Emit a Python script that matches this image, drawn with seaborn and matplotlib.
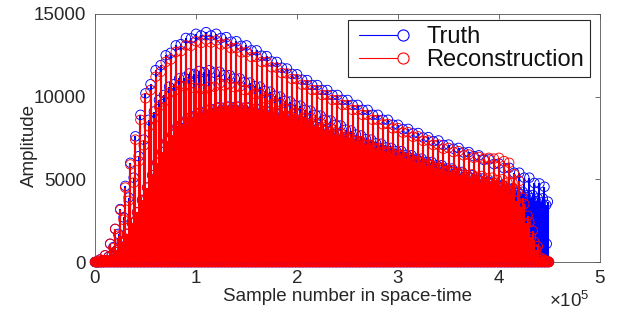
import numpy as np
import pandas as pd
import matplotlib
matplotlib.use("Agg")
import matplotlib.pyplot as plt
import seaborn as sns
from matplotlib.lines import Line2D
from matplotlib.legend_handler import HandlerBase
from matplotlib.ticker import ScalarFormatter

# ---------------- data (amplitudes) ----------------
frame_index = list(range(45))          # time frames
samples_per_frame = 10000              # space-time samples per frame

# strongest spatial channels (top blue / red ribbon)
truth_a = [0, 400, 2000, 4600, 7600, 10200, 11600, 12500, 13100, 13550,
           13800, 13900, 13800, 13600, 13350, 13100, 12800, 12450, 12100, 11700,
           11350, 11000, 10700, 10400, 10100, 9800, 9500, 9200, 8900, 8600,
           8300, 8050, 7800, 7550, 7350, 7100, 6900, 6650, 6450, 6200,
           5950, 5700, 5400, 5100, 4750]
recon_a = [0, 400, 2000, 4500, 7400, 9900, 11200, 12100, 12700, 13100,
           13350, 13450, 13400, 13200, 12950, 12700, 12400, 12100, 11750, 11400,
           11050, 10700, 10400, 10100, 9800, 9500, 9200, 8900, 8600, 8350,
           8100, 7850, 7600, 7350, 7100, 6900, 6700, 6500, 6350, 6300,
           6300, 6000, 4900, 2400, 300]
truth_a2 = [150, 1100, 3200, 6000, 8900, 10750, 11900, 12650, 13175, 13525,
            13700, 13700, 13550, 13325, 13075, 12800, 12475, 12125, 11750, 11375,
            11025, 10700, 10400, 10100, 9800, 9500, 9200, 8900, 8600, 8300,
            8025, 7775, 7525, 7300, 7075, 6850, 6625, 6400, 6175, 5925,
            5675, 5400, 5100, 4775, 4550]
recon_a2 = [150, 1100, 3150, 5900, 8600, 10400, 11500, 12250, 12750, 13075,
            13250, 13275, 13150, 12925, 12675, 12400, 12100, 11775, 11425, 11075,
            10725, 10400, 10100, 9800, 9500, 9200, 8900, 8600, 8325, 8075,
            7825, 7575, 7325, 7075, 6850, 6650, 6450, 6300, 6250, 6250,
            6100, 5300, 3500, 1200, 100]

# second band
truth_b = [0, 300, 1700, 3900, 6400, 8600, 9800, 10600, 11100, 11400,
           11550, 11600, 11500, 11300, 11100, 10850, 10600, 10300, 10000, 9700,
           9450, 9150, 8850, 8550, 8250, 7950, 7650, 7400, 7150, 6900,
           6700, 6450, 6250, 6050, 5850, 5650, 5450, 5250, 5050, 4850,
           4650, 4450, 4250, 4050, 3850]
recon_b = [0, 300, 1600, 3700, 6100, 8200, 9400, 10200, 10700, 10750,
           10500, 10600, 10800, 10750, 10600, 10400, 10150, 9850, 9550, 9250,
           9000, 8700, 8400, 8100, 7800, 7550, 7300, 7050, 6800, 6600,
           6400, 6200, 6000, 5850, 5700, 5550, 5400, 5300, 5200, 5100,
           5000, 4800, 3900, 1900, 200]
truth_b2 = [100, 900, 2700, 5100, 7400, 9100, 10100, 10750, 11150, 11375,
            11475, 11450, 11300, 11100, 10875, 10625, 10350, 10050, 9750, 9475,
            9200, 8900, 8600, 8300, 8000, 7700, 7425, 7175, 6925, 6700,
            6475, 6250, 6050, 5850, 5650, 5450, 5250, 5050, 4850, 4650,
            4450, 4250, 4050, 3850, 3650]
recon_b2 = [100, 850, 2550, 4800, 7050, 8700, 9700, 10350, 10625, 10525,
            10450, 10600, 10675, 10575, 10400, 10175, 9900, 9600, 9300, 9025,
            8750, 8450, 8150, 7850, 7575, 7325, 7075, 6825, 6600, 6400,
            6200, 6000, 5825, 5675, 5525, 5375, 5250, 5150, 5050, 4950,
            4800, 4250, 2800, 950, 50]

# third band (top of the solid region)
truth_c = [0, 100, 700, 1700, 3000, 4500, 6000, 7300, 8200, 8700,
           9000, 9200, 9350, 9400, 9400, 9350, 9250, 9100, 8950, 8800,
           8600, 8400, 8150, 7900, 7700, 7500, 7300, 7100, 6900, 6700,
           6500, 6300, 6100, 5900, 5700, 5500, 5300, 5100, 4900, 4700,
           4500, 4300, 4100, 3850, 3600]
recon_c = [0, 100, 700, 1700, 3000, 4500, 6000, 7300, 8150, 8650,
           8950, 9150, 9300, 9350, 9350, 9300, 9200, 9050, 8900, 8750,
           8550, 8350, 8100, 7850, 7650, 7450, 7250, 7050, 6850, 6650,
           6450, 6250, 6050, 5850, 5650, 5450, 5250, 5050, 4850, 4700,
           4500, 4200, 3300, 1500, 100]
truth_c2 = [50, 400, 1200, 2350, 3750, 5250, 6650, 7700, 8400, 8800,
            9050, 9225, 9325, 9350, 9325, 9250, 9125, 8975, 8825, 8650,
            8450, 8225, 7975, 7750, 7550, 7350, 7150, 6950, 6750, 6550,
            6350, 6150, 5950, 5750, 5550, 5350, 5150, 4950, 4750, 4550,
            4350, 4150, 3925, 3675, 3450]
recon_c2 = [50, 400, 1200, 2350, 3750, 5250, 6650, 7675, 8350, 8750,
            9000, 9175, 9275, 9300, 9275, 9200, 9075, 8925, 8775, 8600,
            8400, 8175, 7925, 7700, 7500, 7300, 7100, 6900, 6700, 6500,
            6300, 6100, 5900, 5700, 5500, 5300, 5100, 4900, 4725, 4550,
            4300, 3700, 2350, 750, 20]

# weaker channels (hidden inside the red area, visible at the blue tail)
truth_d = [0, 100, 600, 1400, 2500, 3800, 5100, 6300, 7100, 7600,
           7900, 8100, 8200, 8250, 8250, 8200, 8150, 8000, 7900, 7750,
           7550, 7400, 7150, 6950, 6750, 6600, 6400, 6250, 6050, 5900,
           5700, 5550, 5350, 5200, 5000, 4850, 4650, 4500, 4300, 4150,
           3950, 3800, 3600, 3400, 3150]
recon_d = [0, 100, 600, 1400, 2500, 3800, 5100, 6300, 7100, 7600,
           7900, 8100, 8200, 8250, 8250, 8200, 8150, 8000, 7900, 7750,
           7550, 7400, 7150, 6950, 6750, 6600, 6400, 6250, 6050, 5900,
           5700, 5550, 5350, 5200, 5000, 4850, 4650, 4500, 4300, 4150,
           3950, 3700, 2800, 1200, 100]
truth_e = [0, 50, 400, 1000, 1800, 2700, 3600, 4400, 4900, 5200,
           5400, 5500, 5600, 5650, 5650, 5600, 5550, 5450, 5350, 5300,
           5150, 5050, 4900, 4750, 4600, 4500, 4400, 4250, 4150, 4000,
           3900, 3800, 3650, 3550, 3400, 3300, 3200, 3050, 2950, 2800,
           2700, 2600, 2450, 2300, 2150]
recon_e = [0, 50, 400, 1000, 1800, 2700, 3600, 4400, 4900, 5200,
           5400, 5500, 5600, 5650, 5650, 5600, 5550, 5450, 5350, 5300,
           5150, 5050, 4900, 4750, 4600, 4500, 4400, 4250, 4150, 4000,
           3900, 3800, 3650, 3550, 3400, 3300, 3200, 3050, 2950, 2800,
           2700, 2500, 1900, 800, 50]
truth_f = [0, 20, 200, 500, 900, 1350, 1800, 2200, 2450, 2600,
           2700, 2750, 2800, 2800, 2800, 2800, 2750, 2700, 2700, 2650,
           2600, 2500, 2450, 2400, 2300, 2250, 2200, 2100, 2050, 2000,
           1950, 1900, 1850, 1750, 1700, 1650, 1600, 1550, 1500, 1400,
           1350, 1300, 1250, 1150, 1100]
recon_f = [0, 20, 200, 500, 900, 1350, 1800, 2200, 2450, 2600,
           2700, 2750, 2800, 2800, 2800, 2800, 2750, 2700, 2700, 2650,
           2600, 2500, 2450, 2400, 2300, 2250, 2200, 2100, 2050, 2000,
           1950, 1900, 1850, 1750, 1700, 1650, 1600, 1550, 1500, 1400,
           1350, 1200, 900, 400, 20]

# silent (zero-amplitude) spatial channel; several such channels form the band along 0
silent = [0, 0, 0, 0, 0, 0, 0, 0, 0, 0, 0, 0, 0, 0, 0, 0, 0, 0, 0, 0, 0, 0, 0,
          0, 0, 0, 0, 0, 0, 0, 0, 0, 0, 0, 0, 0, 0, 0, 0, 0, 0, 0, 0, 0, 0]

# channel order within one frame (space index)
truth_channels = [truth_a, truth_d, silent, truth_c, silent, silent,
                  truth_b, truth_e, silent, truth_a2, silent, silent,
                  truth_c2, truth_f, silent, truth_b2, silent, silent]
recon_channels = [recon_a, recon_d, silent, recon_c, silent, silent,
                  recon_b, recon_e, silent, recon_a2, silent, silent,
                  recon_c2, recon_f, silent, recon_b2, silent, silent]

series_names = ["Truth", "Reconstruction"]
x_ticks = [0, 100000, 200000, 300000, 400000, 500000]
y_ticks = [0, 5000, 10000, 15000]

# ---------------- build long table ----------------
frames = np.array(frame_index)
n_ch = len(truth_channels)
records = []
for slot, (tv, rv) in enumerate(zip(truth_channels, recon_channels)):
    samples = frames * samples_per_frame + slot * samples_per_frame / n_ch
    for s, a in zip(samples, tv):
        records.append(("Truth", s, a))
    for s, a in zip(samples, rv):
        records.append(("Reconstruction", s, a))
df = pd.DataFrame(records, columns=["series", "sample", "amplitude"])

# ---------------- style ----------------
sns.set_style("white")
plt.rcParams["font.family"] = ["Liberation Sans", "DejaVu Sans"]
plt.rcParams["mathtext.fontset"] = "custom"
plt.rcParams["mathtext.rm"] = "Liberation Sans"
plt.rcParams["mathtext.it"] = "Liberation Sans:italic"
plt.rcParams["mathtext.bf"] = "Liberation Sans:bold"

fig = plt.figure(figsize=(6.18, 3.18), dpi=100)
ax = fig.add_axes([0.1537, 0.1761, 0.8172, 0.7799])

colors = {"Truth": "#0000ff", "Reconstruction": "#ff0000"}
z = 2.0
for name in series_names:
    d = df[df["series"] == name]
    ax.vlines(d["sample"], 0, d["amplitude"], colors=colors[name],
              linewidth=1.5, zorder=z)
    sns.scatterplot(data=d, x="sample", y="amplitude", ax=ax, marker="o",
                    s=47, color=colors[name], linewidth=0.65, zorder=z + 0.5,
                    clip_on=False, legend=False)
    coll = ax.collections[-1]
    coll.set_facecolor("none")
    coll.set_edgecolor(colors[name])
    z += 1.0

ax.set_xlim(0, 500000)
ax.set_ylim(0, 15000)
ax.set_xticks(x_ticks)
ax.set_yticks(y_ticks)
fmt = ScalarFormatter(useMathText=True)
fmt.set_powerlimits((0, 0))
ax.xaxis.set_major_formatter(fmt)

ax.set_xlabel("Sample number in space-time", fontsize=13.5, color="#262626", labelpad=1)
ax.set_ylabel("Amplitude", fontsize=13.5, color="#262626")
ax.yaxis.set_label_coords(-0.112, 0.47)

ax.tick_params(direction="in", length=3.6, width=0.6, top=True, right=True,
               colors="#555555", labelcolor="#262626", labelsize=13.5)
ax.tick_params(axis="x", pad=5.5)
ax.tick_params(axis="y", pad=6.5)
for sp in ax.spines.values():
    sp.set_color("#555555")
    sp.set_linewidth(0.6)
    sp.set_visible(True)

ot = ax.xaxis.get_offset_text()
ot.set_fontsize(13.5)
ot.set_color("#262626")
ot.set_x(0.98)


class StemHandler(HandlerBase):
    def create_artists(self, legend, orig_handle, xdescent, ydescent, width,
                       height, fontsize, trans):
        col = orig_handle.get_color()
        ms = 8.0
        y = 0.5 * height - ydescent
        x_end = width - xdescent - ms / 2
        x_start = -xdescent + 0.08 * width
        line = Line2D([x_start, x_end - ms / 2], [y, y], color=col,
                      linewidth=0.8, transform=trans)
        mk = Line2D([x_end], [y], linestyle="none", marker="o", markersize=ms,
                    markerfacecolor="none", markeredgecolor=col,
                    markeredgewidth=0.8, transform=trans)
        return [line, mk]


handles = [Line2D([], [], color=colors[n]) for n in series_names]
leg = ax.legend(handles, series_names, handler_map={Line2D: StemHandler()},
                loc="upper right", bbox_to_anchor=(0.98, 0.976),
                borderaxespad=0, fontsize=17, frameon=True, fancybox=False,
                framealpha=1, edgecolor="#262626", borderpad=0.25,
                labelspacing=0.05, handlelength=2.3, handletextpad=0.75)
leg.get_frame().set_linewidth(0.8)
for t in leg.get_texts():
    t.set_color("#111111")

fig.savefig("out.png", dpi=100, facecolor="white")
